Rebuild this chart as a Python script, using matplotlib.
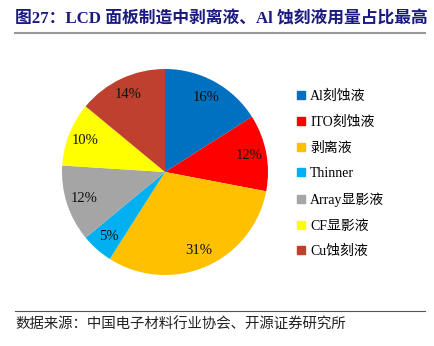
import matplotlib
matplotlib.use("Agg")
from matplotlib import pyplot as plt
from matplotlib.lines import Line2D

labels = ["Al刻蚀液", "ITO刻蚀液", "剥离液", "Thinner", "Array显影液", "CF显影液", "Cu蚀刻液"]
shares = [16, 12, 31, 5, 12, 10, 14]
colors = ["#0070C0", "#FF0000", "#FFC000", "#00B0F0", "#A5A5A5", "#FFFF00", "#C0402F"]

title = "图27：LCD 面板制造中剥离液、Al 蚀刻液用量占比最高"
source = "数据来源：中国电子材料行业协会、开源证券研究所"

mixed = ["Liberation Serif", "Noto Sans CJK SC"]

fig = plt.figure(figsize=(4.35, 3.46), dpi=100)

# pie: centre (165,172) px, radius ~103 px
ax = fig.add_axes([62 / 435, 71 / 346, 206 / 435, 206 / 346])
wedges, texts, autotexts = ax.pie(shares, colors=colors, startangle=90, counterclock=False,
                                  autopct="%d%%", pctdistance=0.83,
                                  textprops=dict(family="Liberation Serif", fontsize=10.5, color="#111111"))
ax.set_xlim(-1, 1)
ax.set_ylim(-1, 1)
ax.axis("off")

handles = [Line2D([], [], marker="s", linestyle="none", markersize=6, color=c) for c in colors]
leg = fig.legend(handles, labels, loc="upper left", bbox_to_anchor=(297 / 435, 1 - 90 / 346),
                 frameon=False, prop=dict(family=mixed, size=10), labelspacing=0.9,
                 handlelength=0.6, handletextpad=0.35, borderaxespad=0, borderpad=0)

fig.text(15 / 435, 1 - 19 / 346, title, family=mixed, weight="bold", fontsize=12.1,
         color="#1a1a80", va="center", ha="left")
fig.add_artist(Line2D([15 / 435, 425 / 435], [1 - 33 / 346, 1 - 33 / 346], color="#999999", lw=1.5))
fig.add_artist(Line2D([15 / 435, 425 / 435], [1 - 311 / 346, 1 - 311 / 346], color="#555555", lw=0.8))
fig.text(15 / 435, 1 - 325 / 346, source, family="Noto Sans CJK SC", fontsize=10.4,
         color="#222222", va="center", ha="left")

fig.savefig("out.png", dpi=100)
